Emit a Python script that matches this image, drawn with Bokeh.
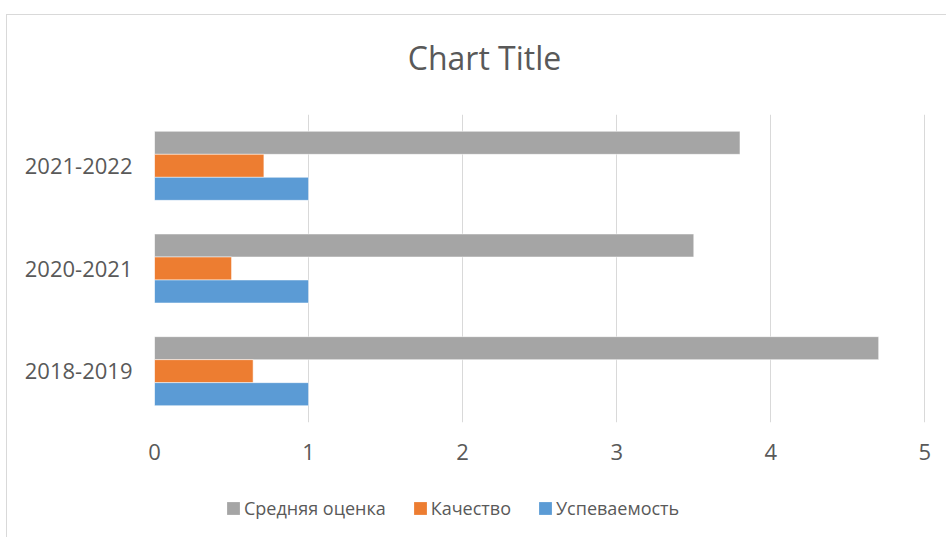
from bokeh.plotting import figure
from bokeh.models import (ColumnDataSource, FixedTicker, Legend, LegendItem,
                          FactorRange, Range1d, Spacer, Label)
from bokeh.layouts import column, row
from bokeh.transform import dodge
from bokeh.embed import file_html
from bokeh.resources import INLINE

years = ["2018-2019", "2020-2021", "2021-2022"]
srednyaya = [4.7, 3.5, 3.8]
kachestvo = [0.64, 0.50, 0.71]
uspevaemost = [1.0, 1.0, 1.0]
series_names = ["Средняя оценка", "Качество", "Успеваемость"]
series_colors = ["#A5A5A5", "#ED7D31", "#5B9BD5"]
x_ticks = [0, 1, 2, 3, 4, 5]
chart_title = "Chart Title"

FONT = "Open Sans"
TXT = "#595959"

src = ColumnDataSource(dict(year=years, s=srednyaya, k=kachestvo, u=uspevaemost))


def strip(height):
    f = figure(width=939, height=height, output_backend="svg", toolbar_location=None,
               x_range=Range1d(0, 1), y_range=Range1d(0, 1),
               x_axis_location=None, y_axis_location=None,
               min_border_left=0, min_border_right=0, min_border_top=0,
               min_border_bottom=0, outline_line_color=None)
    f.grid.visible = False
    return f


# title strip
p0 = strip(99)
p0.add_layout(Label(x=330, y=57, x_units="screen", y_units="screen", text=chart_title,
                    text_align="center", text_baseline="alphabetic",
                    text_font=FONT, text_font_size="32px", text_color=TXT))

# main chart
p = figure(frame_width=771, frame_height=308, output_backend="svg", toolbar_location=None,
           y_range=FactorRange(factors=years, range_padding=0),
           x_range=Range1d(0, 5.004),
           min_border_left=147, min_border_right=21, min_border_top=0,
           min_border_bottom=50, outline_line_color=None)

bh = 0.224
r_s = p.hbar(y=dodge("year", bh, range=p.y_range), right="s", left=0, height=bh,
             source=src, fill_color=series_colors[0], line_color="white", line_alpha=0.5, line_width=1)
r_k = p.hbar(y=dodge("year", 0, range=p.y_range), right="k", left=0, height=bh,
             source=src, fill_color=series_colors[1], line_color="white", line_alpha=0.5, line_width=1)
r_u = p.hbar(y=dodge("year", -bh, range=p.y_range), right="u", left=0, height=bh,
             source=src, fill_color=series_colors[2], line_color="white", line_alpha=0.5, line_width=1)

p.xaxis.ticker = FixedTicker(ticks=x_ticks)
for ax in (p.xaxis[0], p.yaxis[0]):
    ax.axis_line_color = None
    ax.major_tick_line_color = None
    ax.minor_tick_line_color = None
    ax.major_tick_out = 0
    ax.major_tick_in = 0
    ax.major_label_text_font = FONT
    ax.major_label_text_font_size = "22px"
    ax.major_label_text_color = TXT
p.xaxis.major_label_standoff = 21
p.yaxis.major_label_standoff = 22

p.xgrid.grid_line_color = "#d9d9d9"
p.xgrid.grid_line_width = 1
p.xgrid.ticker = FixedTicker(ticks=x_ticks)
p.ygrid.grid_line_color = None

# legend strip (hidden proxy renderers only supply the legend swatches)
p2 = strip(65)
proxies = [p2.hbar(y="u", right="u", left=0, height=0.1, source=src,
                   fill_color=c, line_color=None, visible=False)
           for c in series_colors]
legend = Legend(items=[LegendItem(label=n, renderers=[r]) for n, r in zip(series_names, proxies)],
                orientation="horizontal", location=(71, 17),
                padding=0, margin=0, spacing=26, label_standoff=3,
                glyph_width=16, glyph_height=16,
                border_line_color=None, background_fill_alpha=0,
                label_text_font=FONT, label_text_font_size="18px",
                label_text_color=TXT)
p2.add_layout(legend, "center")

inner = column(p0, p, p2, spacing=0,
               styles={"border-top": "1px solid #d9d9d9", "border-left": "1px solid #d9d9d9"})
layout = column(Spacer(height=14), row(Spacer(width=6), inner, spacing=0), spacing=0)

open("out.html", "w").write(file_html(layout, INLINE))
